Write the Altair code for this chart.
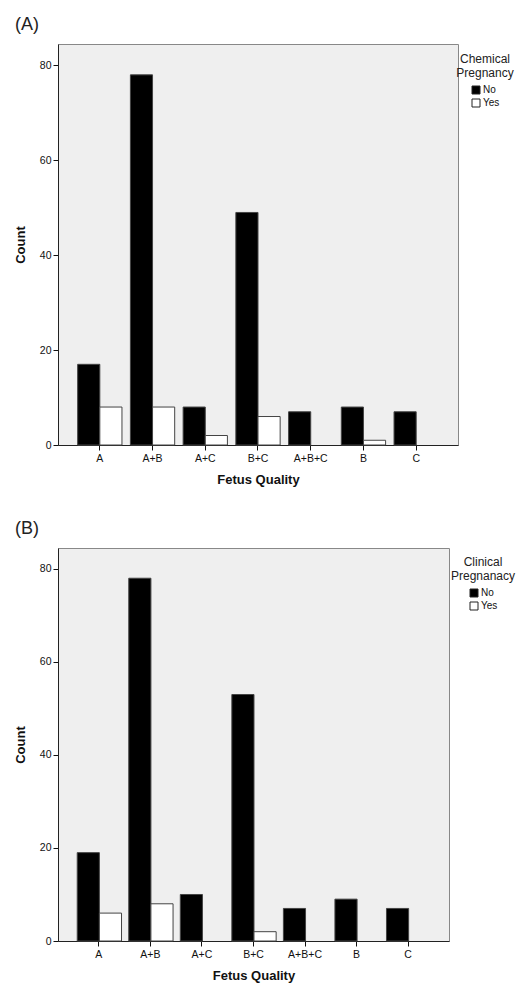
import altair as alt
import pandas as pd

categories = ["A", "A+B", "A+C", "B+C", "A+B+C", "B", "C"]
groups = ["No", "Yes"]
chem_no = [17, 78, 8, 49, 7, 8, 7]
chem_yes = [8, 8, 2, 6, 0, 1, 0]
clin_no = [19, 78, 10, 53, 7, 9, 7]
clin_yes = [6, 8, 0, 2, 0, 0, 0]
y_ticks = [0, 20, 40, 60, 80]

FONT = "Liberation Sans"


def make_df(no, yes):
    rows = []
    for c, n, y in zip(categories, no, yes):
        rows.append({"Fetus Quality": c, "grp": "No", "Count": n})
        rows.append({"Fetus Quality": c, "grp": "Yes", "Count": y})
    return pd.DataFrame(rows)


def panel(df, label, legend_title, w, h, lx, ly):
    return (
        alt.Chart(df)
        .transform_filter(alt.datum.Count > 0)
        .mark_bar(stroke="#444444", strokeWidth=1)
        .encode(
            x=alt.X(
                "Fetus Quality:N",
                sort=categories,
                scale=alt.Scale(domain=categories, paddingInner=0.16, paddingOuter=0.373),
                axis=alt.Axis(
                    title="Fetus Quality", labelAngle=0, labelFont=FONT, labelFontSize=10.5,
                    labelColor="#111", titleFont=FONT, titleFontSize=13, titleFontWeight="bold",
                    titleColor="#111", tickColor="#111", tickSize=5, domainColor="#222",
                    labelPadding=3, titlePadding=10,
                ),
            ),
            xOffset=alt.XOffset("grp:N", scale=alt.Scale(domain=groups, paddingInner=0, paddingOuter=0)),
            y=alt.Y(
                "Count:Q",
                scale=alt.Scale(domain=[0, 84.5], nice=False),
                axis=alt.Axis(
                    title="Count", values=y_ticks, grid=False, labelFont=FONT, labelFontSize=10.5,
                    labelColor="#111", titleFont=FONT, titleFontSize=13, titleFontWeight="bold",
                    titleColor="#111", tickColor="#111", tickSize=5, domainColor="#222",
                    labelPadding=2, titlePadding=12,
                ),
            ),
            color=alt.Color(
                "grp:N",
                scale=alt.Scale(domain=groups, range=["#000000", "#ffffff"]),
                legend=alt.Legend(
                    title=legend_title, orient="none", legendX=lx, legendY=ly,
                    titleFont=FONT, titleFontSize=12, titleFontWeight="normal", titleColor="#222",
                    titleAlign="center", titleAnchor="middle", titleLineHeight=14,
                    labelFont=FONT, labelFontSize=10, labelColor="#111",
                    symbolType="square", symbolSize=64, symbolStrokeColor="#222",
                    symbolStrokeWidth=1, rowPadding=1, labelOffset=2, padding=0,
                ),
            ),
        )
        .properties(
            width=w,
            height=h,
            title=alt.TitleParams(
                label, anchor="start", frame="group", dx=-43, font=FONT, fontSize=18,
                fontWeight="normal", color="#222", offset=10,
            ),
        )
    )


top = panel(make_df(chem_no, chem_yes), "(A)", ["Chemical", "Pregnancy"], 400, 401, 398, 10)
bottom = panel(make_df(clin_no, clin_yes), "(B)", ["Clinical", "Pregnanacy"], 391, 393, 393, 9)

chart = (
    alt.vconcat(top, bottom, spacing=32)
    .resolve_legend(color="independent")
    .resolve_scale(color="independent")
    .configure_view(fill="#efefef", stroke="#888888")
    .properties(padding={"left": 5, "top": 7, "right": 0, "bottom": 0})
)

chart.save("out.html", embed_options={"renderer": "svg", "actions": False})
